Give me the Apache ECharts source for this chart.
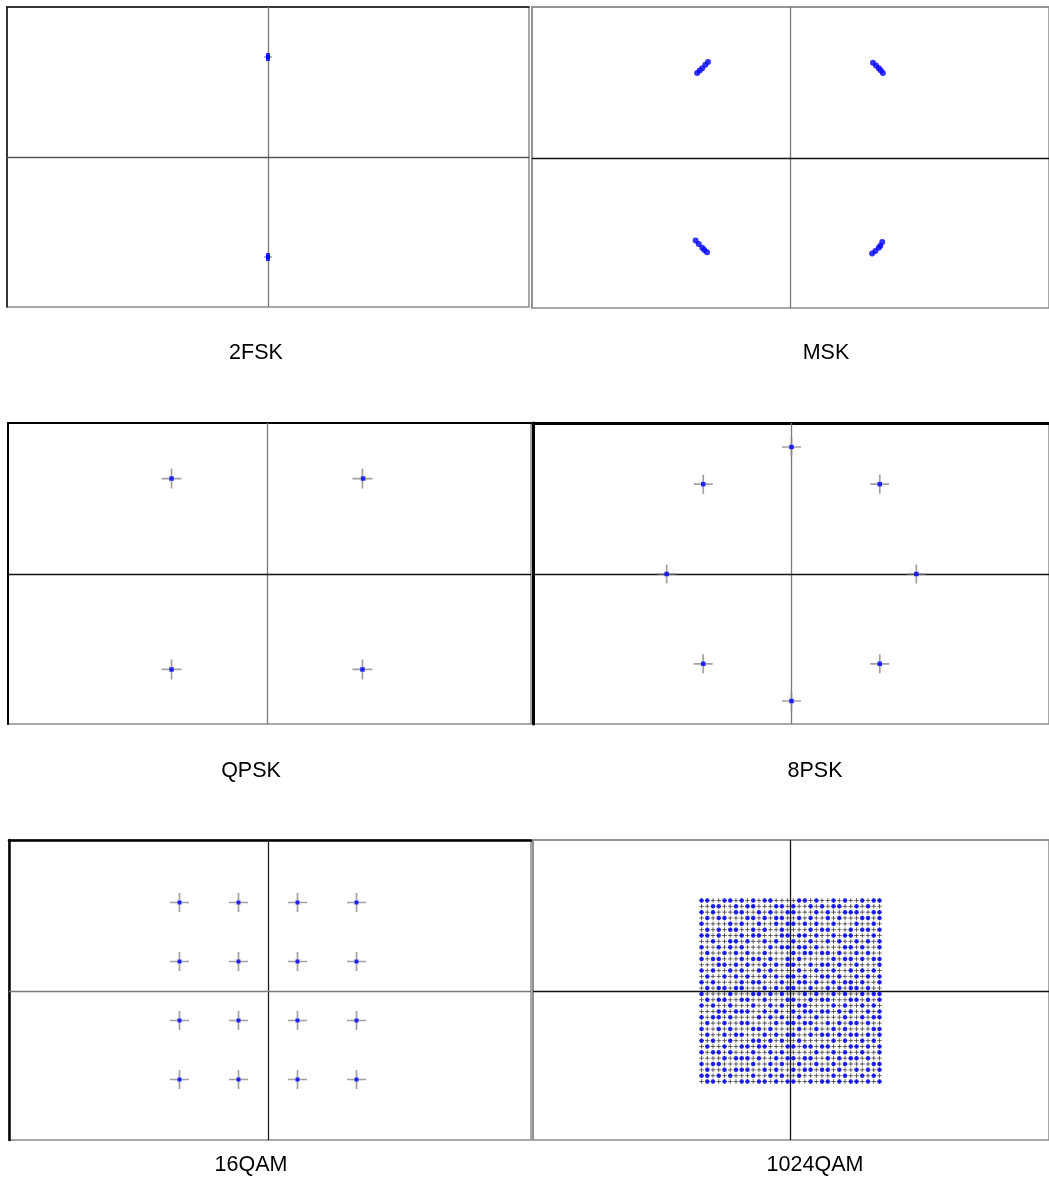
<!DOCTYPE html>
<html><head><meta charset="utf-8">
<script src="https://cdn.jsdelivr.net/npm/echarts@6/dist/echarts.min.js"></script>
<style>html,body{margin:0;padding:0;background:#fff}#c{width:1049px;height:1189px}</style>
</head><body><div id="c"></div>
<script>
// ---------------- data ----------------
const panelNames = ['2FSK', 'MSK', 'QPSK', '8PSK', '16QAM', '1024QAM'];

const fskIdeal = [[0, 1], [0, -1]];
const fskRx = [[0, 1.02], [0, 1.0], [0, 0.98], [0, -0.98], [0, -1.0], [0, -1.02]];

const mskRx = [
  [-0.661, 0.756], [-0.682, 0.734], [-0.707, 0.707], [-0.727, 0.688], [-0.748, 0.669],
  [0.661, 0.750], [0.685, 0.728], [0.707, 0.707], [0.722, 0.690], [0.740, 0.669],
  [-0.760, -0.650], [-0.735, -0.678], [-0.707, -0.707], [-0.690, -0.724], [-0.669, -0.742],
  [0.654, -0.752], [0.680, -0.732], [0.707, -0.707], [0.720, -0.690], [0.735, -0.662]
];

const qpskIdeal = [[-0.7071, 0.7071], [0.7071, 0.7071], [-0.7071, -0.7071], [0.7071, -0.7071]];
const qpskRx = [[-0.7071, 0.7071], [0.712, 0.7071], [-0.7071, -0.7071], [0.7071, -0.7071]];

const psk8Ideal = [[1, 0], [0.7071, 0.7071], [0, 1], [-0.7071, 0.7071], [-1, 0], [-0.7071, -0.7071], [0, -1], [0.7071, -0.7071]];
const psk8Rx = [[1, 0], [0.7071, 0.7071], [0, 1], [-0.7071, 0.7071], [-1, 0], [-0.7071, -0.7071], [0, -1], [0.7071, -0.7071]];

const qam16Levels = [-3, -1, 1, 3];

const qam1024Levels = [-31, -29, -27, -25, -23, -21, -19, -17, -15, -13, -11, -9, -7, -5, -3, -1,
  1, 3, 5, 7, 9, 11, 13, 15, 17, 19, 21, 23, 25, 27, 29, 31];
// received symbols: row 0 = top (Q = +31), column 0 = left (I = -31); '1' = a received symbol
const qam1024RxRows = [
  '11001101010110000110100101001011',
  '00110010110001101001010110010100',
  '10100011001010011000101001110011',
  '01011000110101100101001010001101',
  '10000101001001011010100100010010',
  '01010110010100100001011000101101',
  '11010001011000110110100101100010',
  '00100110100101001001001010010101',
  '10010101000010110110100001101001',
  '01001010100100001011011010010100',
  '10110001011010010100000101101011',
  '00011010100101011001011010010001',
  '10100101001010000100100100101010',
  '01001010100101011010011010010101',
  '10100001011000100110100101101001',
  '01011011000101011001001010110100',
  '10000100011010100010100101001011',
  '01011001100100011001011000110101',
  '10100100010010100110000101001010',
  '00011011100101001011011010100101',
  '10110100001010100100100001001011',
  '01001001100001011011001010110100',
  '10010100011010000100100101000011',
  '01001011000101011001011010110101',
  '10100100011010100100000101001010',
  '01001001101100011011011000110101',
  '10110100010010100000100101001001',
  '00001011101001011011001010110100',
  '10110000010010100100100101000011',
  '01001011100101001011011010010101',
  '11010100010010100100000101001010',
  '01101001101101011001011010110101'
];

// ---------------- layout ----------------
// [left, top, right, bottom, originX, originY, pixelsPerUnit]
const layouts = [
  [7, 7, 529, 307, 268, 157, 100],
  [532, 7, 1058, 308, 795, 158, 127],
  [8, 423, 531, 724, 267, 574, 135],
  [533, 423, 1058, 724, 796, 574, 127],
  [9, 840, 531, 1140, 268, 991, 29.5],
  [533, 840, 1058, 1140, 795, 991, 2.92]
];
const labelPos = [[256, 353], [826, 353], [251, 771], [815, 771], [251, 1165], [815, 1165]];
const crossSize = [8, 0, 20, 19, 19, 4.5];
const edgeStyle = [ // [color, width] of top/left frame
  ['#111', 1.5], ['#8c8c8c', 1.5], ['#000', 2], ['#000', 3], ['#000', 2.5], ['#8c8c8c', 1.5]
];
const centerLineColors = [ // [vertical, horizontal]
  ['#7a7a7a', '#555'], ['#7a7a7a', '#111'], ['#7a7a7a', '#111'],
  ['#7a7a7a', '#111'], ['#222', '#7a7a7a'], ['#111', '#111']
];

// ---------------- build ----------------
function qam16Grid() {
  const pts = [];
  qam16Levels.forEach(y => qam16Levels.forEach(x => pts.push([x, y])));
  return pts;
}
function qam1024Ideal() {
  const pts = [];
  for (let r = 0; r < 32; r++) for (let c = 0; c < 32; c++)
    pts.push([qam1024Levels[c], qam1024Levels[31 - r]]);
  return pts;
}
function qam1024Rx() {
  const pts = [];
  qam1024RxRows.forEach((row, r) => {
    for (let c = 0; c < 32; c++) if (row[c] === '1') pts.push([qam1024Levels[c], qam1024Levels[31 - r]]);
  });
  return pts;
}

const ideal = [fskIdeal, [], qpskIdeal, psk8Ideal, qam16Grid(), qam1024Ideal()];
const received = [fskRx, mskRx, qpskRx, psk8Rx, qam16Grid(), qam1024Rx()];
const rxSymbol = ['rect', 'circle', 'rect', 'rect', 'rect', 'circle'];
const rxSize = [4, 6, 4.5, 4.5, 4, 4.5];

const CROSS = 'path://M10,0L10,20M0,10L20,10';
const grid = [], xAxis = [], yAxis = [], series = [], graphic = [];

layouts.forEach((L, i) => {
  const [left, top, right, bottom, ox, oy, ppu] = L;
  grid.push({left, top, width: right - left, height: bottom - top, show: true,
    backgroundColor: '#fff', borderColor: '#8c8c8c', borderWidth: 1.5});
  const edge = {onZero: false, lineStyle: {color: edgeStyle[i][0], width: edgeStyle[i][1]}};
  xAxis.push({gridIndex: i, type: 'value', position: 'top', min: (left - ox) / ppu, max: (right - ox) / ppu,
    axisLine: edge, axisTick: {show: false}, axisLabel: {show: false}, splitLine: {show: false}});
  yAxis.push({gridIndex: i, type: 'value', position: 'left', min: -(bottom - oy) / ppu, max: (oy - top) / ppu,
    axisLine: edge, axisTick: {show: false}, axisLabel: {show: false}, splitLine: {show: false}});
  series.push({
    type: 'scatter', xAxisIndex: i, yAxisIndex: i, data: ideal[i], symbol: CROSS,
    symbolSize: crossSize[i], silent: true, z: 2,
    itemStyle: {color: 'rgba(0,0,0,0)', borderColor: i === 5 ? '#3a3a3a' : '#8a8a8a', borderWidth: i === 5 ? 1 : 1.7},
    markLine: {silent: true, symbol: ['none', 'none'], label: {show: false}, z: 1,
      data: [
        {xAxis: 0, lineStyle: {color: centerLineColors[i][0], width: 1.3, type: 'solid'}},
        {yAxis: 0, lineStyle: {color: centerLineColors[i][1], width: 1.3, type: 'solid'}}
      ]}
  });
  series.push({
    type: 'scatter', xAxisIndex: i, yAxisIndex: i, data: received[i], symbol: rxSymbol[i],
    symbolSize: rxSize[i], silent: true, z: 3, itemStyle: {color: '#0000ff'}
  });
  graphic.push({type: 'text', x: labelPos[i][0], y: labelPos[i][1], silent: true,
    style: {text: panelNames[i], fontSize: 21.5, fontFamily: 'Liberation Sans, Arial, sans-serif',
      fill: '#000', align: 'center', verticalAlign: 'middle'}});
});

const chart = echarts.init(document.getElementById('c'), null, {renderer: 'canvas'});
chart.setOption({animation: false, backgroundColor: '#fff', grid, xAxis, yAxis, series, graphic});
</script>
</body></html>
